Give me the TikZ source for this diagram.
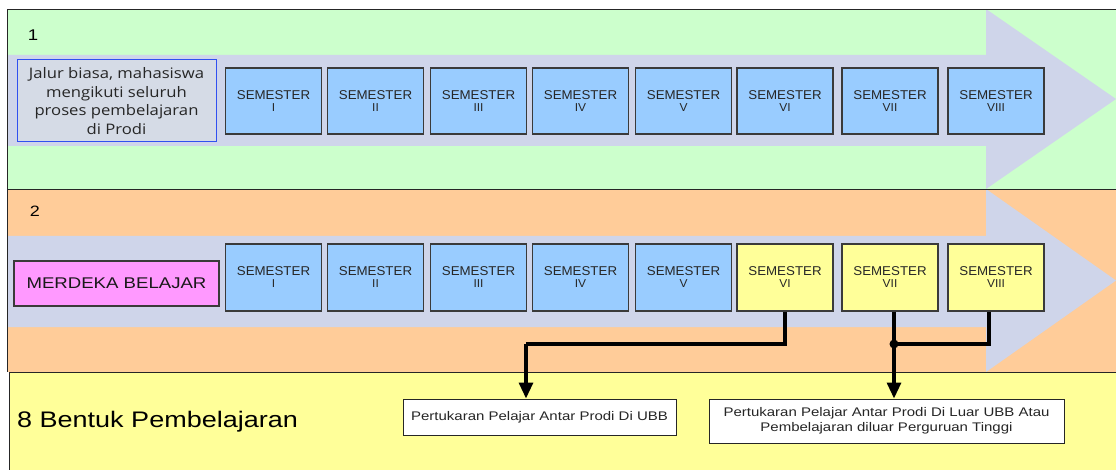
\documentclass[tikz,border=0pt]{standalone}
\usepackage{fontspec}
\usetikzlibrary{arrows.meta,calc}
\newfontfamily\arialw[FakeStretch=1.2]{Liberation Sans}
\newfontfamily\arialn[FakeStretch=1.04]{Liberation Sans}
\newfontfamily\opensans[FakeStretch=1.15]{Open Sans}
\definecolor{pgreen}{HTML}{CCFFCC}
\definecolor{porange}{HTML}{FFCC99}
\definecolor{pyellow}{HTML}{FFFF99}
\definecolor{lav}{HTML}{CFD5EA}
\definecolor{sblue}{HTML}{99CCFF}
\definecolor{magbox}{HTML}{FF99FF}
\definecolor{jalurfill}{HTML}{D5DBE6}
\definecolor{jalurborder}{HTML}{3050F0}
\definecolor{semborder}{HTML}{3A3A3A}
\tikzset{
  panelline/.style={draw=black!85, line width=0.9pt},
  sem/.style={draw=semborder, line width=1.1pt, minimum width=96pt, minimum height=66pt,
    inner sep=0pt, align=center, text=black!85,
    font=\arialn\fontsize{12.8}{12.5}\selectfont},
  infobox/.style={draw=black!85, line width=1pt, fill=white, inner sep=0pt, align=center,
    text=black!85, font=\arialw\fontsize{12.5}{15}\selectfont},
  conn/.style={line width=3.2pt, black},
  connarrow/.style={conn, -{Triangle[length=16pt,width=14pt]}}
}
\newcommand{\semtext}[1]{SEMESTER\\[-0.5pt]{\fontsize{11.5}{12.5}\selectfont #1}}
\begin{document}
\begin{tikzpicture}[x=1pt,y=-1pt]
\useasboundingbox (0,0) rectangle (1116,470);
\fill[white] (0,0) rectangle (1116,470);
\begin{scope}
\clip (0,0) rectangle (1116,470);
% panels
\fill[pgreen] (7,9) rectangle (1130,189);
\fill[porange] (7,189) rectangle (1130,372);
\fill[pyellow] (9,372) rectangle (1130,480);
% arrows
\fill[lav] (8,55) -- (986,55) -- (986,9) -- (1116,99) -- (986,189) -- (986,146) -- (8,146) -- cycle;
\fill[lav] (8,236) -- (986,236) -- (986,189) -- (1116,280.5) -- (986,372) -- (986,327) -- (8,327) -- cycle;
% panel borders
\draw[panelline] (1130,9) -- (7,9) -- (7,372);
\draw[panelline] (7,189) -- (1130,189);
\draw[panelline] (1130,372) -- (9,372) -- (9,480);
\end{scope}

% panel labels
\node[font=\arialw\fontsize{15.5}{18}\selectfont, anchor=base, inner sep=0pt] (lab1) at (33,40.5) {1};
\node[font=\arialw\fontsize{15}{18}\selectfont, anchor=base, inner sep=0pt] (lab2) at (35,216.5) {2};
\node[font=\arialw\fontsize{22.5}{26}\selectfont, anchor=base west, inner sep=0pt] (lab3) at (17,427) {8 Bentuk Pembelajaran};

% row 1
\node[draw=jalurborder, line width=1pt, fill=jalurfill, minimum width=199pt, minimum height=82pt,
  inner sep=0pt, align=center, text=black!85, font=\opensans\fontsize{14.5}{18.7}\selectfont]
  (jalur) at (116.5,101) {Jalur biasa, mahasiswa\\mengikuti seluruh\\proses pembelajaran\\di Prodi};
\foreach \n/\r/\x in {1/I/273.5, 2/II/375.5, 3/III/478.5, 4/IV/580.5, 5/V/683.5, 6/VI/785, 7/VII/890, 8/VIII/996}
  \node[sem, fill=sblue] (a\n) at (\x,101) {\semtext{\r}};

% row 2
\node[draw=semborder, line width=1.1pt, fill=magbox, minimum width=205pt, minimum height=45pt,
  inner sep=0pt, text=black!90, font=\arialw\fontsize{15.5}{18}\selectfont]
  (merdeka) at (116.5,283.5) {MERDEKA BELAJAR};
\foreach \n/\r/\x in {1/I/273.5, 2/II/375.5, 3/III/478.5, 4/IV/580.5, 5/V/683.5}
  \node[sem, fill=sblue, minimum height=67pt] (b\n) at (\x,277.5) {\semtext{\r}};
\foreach \n/\r/\x in {6/VI/785, 7/VII/890, 8/VIII/996}
  \node[sem, fill=pyellow, minimum height=67pt] (b\n) at (\x,277.5) {\semtext{\r}};

% target boxes
\node[infobox, minimum width=273pt, minimum height=36pt] (A) at (539.5,417)
  {Pertukaran Pelajar Antar Prodi Di UBB};
\node[infobox, minimum width=355pt, minimum height=44pt] (B) at (886.5,421)
  {Pertukaran Pelajar Antar Prodi Di Luar UBB Atau\\Pembelajaran diluar Perguruan Tinggi};

% connectors
\coordinate (j1) at (526,344);
\coordinate (dot) at (894,344);
\coordinate (s7) at ($(b7.south)+(4,0)$);
\coordinate (s8) at ($(b8.south)+(-7,0)$);
\draw[conn] (b6.south) |- (j1);
\draw[connarrow] (j1) -- (j1 |- A.north);
\draw[connarrow] (s7) -- (s7 |- B.north);
\draw[conn] (s8) |- (dot);
\fill (dot) circle (4.5pt);
\end{tikzpicture}
\end{document}
